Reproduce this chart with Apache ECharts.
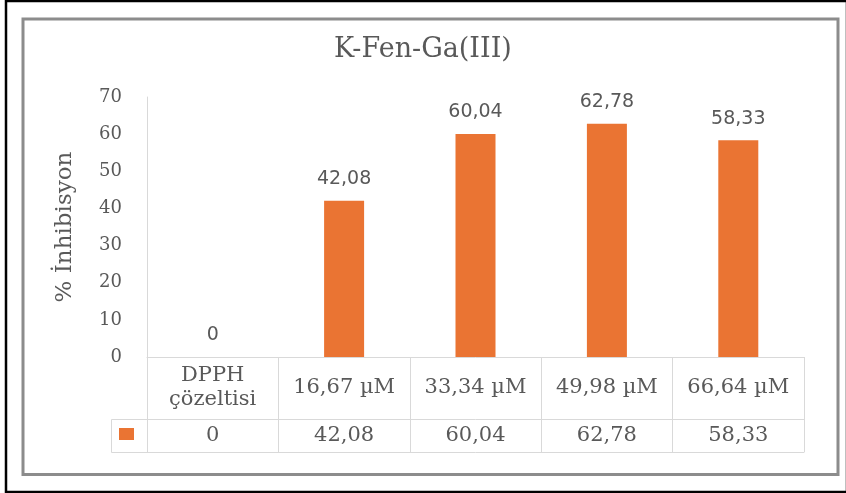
<!DOCTYPE html>
<html>
<head>
<meta charset="utf-8">
<script src="https://cdn.jsdelivr.net/npm/echarts@6/dist/echarts.min.js"></script>
<style>
html,body{margin:0;padding:0;background:#fff;}
#chart{width:846px;height:493px;}
</style>
</head>
<body>
<div id="chart"></div>
<script>
const chartTitle = 'K-Fen-Ga(III)';
const yAxisTitle = '% İnhibisyon';
const categories = ['DPPH\nçözeltisi', '16,67 µM', '33,34 µM', '49,98 µM', '66,64 µM'];
const inhibitionValues = [0, 42.08, 60.04, 62.78, 58.33];
const yTicks = { min: 0, max: 70, interval: 10 };

const fmt = v => String(v).replace('.', ',');
const txt = '#595959';
const gridLine = '#d9d9d9';
const serif = 'DejaVu Serif';

const chart = echarts.init(document.getElementById('chart'), null, { renderer: 'canvas' });
chart.setOption({
  animation: false,
  backgroundColor: '#fff',
  title: {
    text: chartTitle,
    left: 'center',
    top: 36,
    padding: 0,
    textStyle: { fontFamily: serif, fontSize: 27, fontWeight: 'normal', color: txt }
  },
  legend: {
    left: 119, top: 428, padding: 0,
    itemWidth: 15, itemHeight: 12,
    icon: 'rect',
    formatter: () => '',
    selectedMode: false,
    data: ['Inhibisyon']
  },
  grid: { left: 147, right: 42, top: 97, bottom: 136 },
  xAxis: [
    {
      type: 'category', data: categories, position: 'bottom',
      axisLine: { lineStyle: { color: gridLine, width: 1 } },
      axisTick: { show: true, length: 95, interval: 0, lineStyle: { color: gridLine } },
      axisLabel: {
        interval: 0, margin: 31, verticalAlign: 'middle',
        fontFamily: serif, fontSize: 21, color: txt, lineHeight: 24
      }
    },
    {
      type: 'category', data: categories, position: 'bottom', offset: 62,
      axisLine: { lineStyle: { color: gridLine, width: 1 } },
      axisTick: { show: false },
      axisLabel: {
        interval: 0, margin: 17, verticalAlign: 'middle',
        fontFamily: serif, fontSize: 21, color: txt,
        formatter: (v, i) => fmt(inhibitionValues[i])
      }
    },
    {
      type: 'category', data: categories, position: 'bottom', offset: 95,
      axisLine: { lineStyle: { color: gridLine, width: 1 } },
      axisTick: { show: false },
      axisLabel: { show: false }
    }
  ],
  yAxis: {
    type: 'value', min: yTicks.min, max: yTicks.max, interval: yTicks.interval,
    name: yAxisTitle, nameLocation: 'middle', nameGap: 70,
    nameTextStyle: { fontFamily: serif, fontSize: 23, color: txt },
    axisLine: { show: true, lineStyle: { color: gridLine, width: 1 } },
    axisTick: { show: false },
    splitLine: { show: false },
    axisLabel: { margin: 25, fontFamily: serif, fontSize: 18, color: txt }
  },
  series: [{
    name: 'Inhibisyon',
    type: 'bar',
    xAxisIndex: 0,
    data: inhibitionValues,
    barWidth: 40,
    itemStyle: { color: '#EA7433' },
    label: {
      show: true, position: 'top', distance: 12,
      fontFamily: 'DejaVu Sans', fontSize: 19, color: txt,
      formatter: p => fmt(p.value)
    }
  }],
  graphic: [
    { type: 'rect', silent: true, z: -1, shape: { x: 6, y: 1, width: 841, height: 491 },
      style: { fill: 'none', stroke: '#000', lineWidth: 2.5 } },
    { type: 'rect', silent: true, shape: { x: 23, y: 19, width: 815, height: 455.5 },
      style: { fill: 'none', stroke: '#8c8c8c', lineWidth: 3 } },
    { type: 'polyline', silent: true, shape: { points: [[147, 419.5], [111.5, 419.5], [111.5, 452.5], [147, 452.5]] },
      style: { fill: 'none', stroke: gridLine, lineWidth: 1 } }
  ]
});
</script>
</body>
</html>
